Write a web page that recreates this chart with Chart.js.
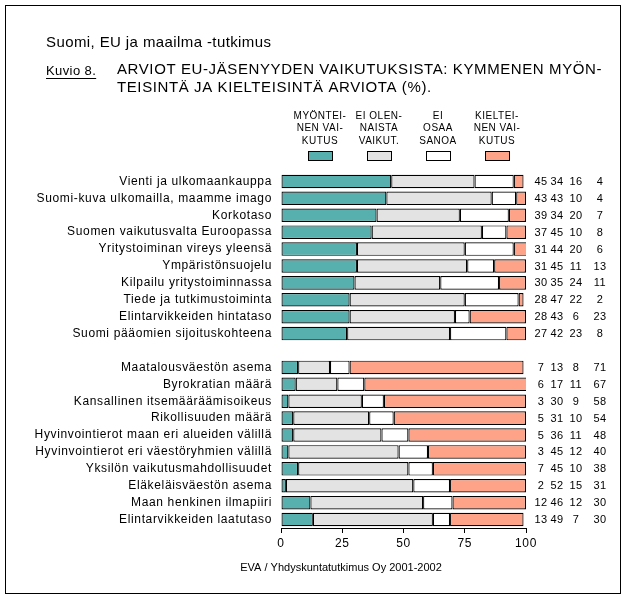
<!DOCTYPE html>
<html>
<head>
<meta charset="utf-8">
<script src="https://cdn.jsdelivr.net/npm/chart.js@4.4.0/dist/chart.umd.min.js"></script>
<style>
  body { margin: 0; background: #fff; }
  canvas { display: block; }
</style>
</head>
<body>
<canvas id="chart" width="626" height="599"></canvas>
<script>
// kategoriat (tyhjä rivi erottaa myönteiset ja kielteiset)
const categories = [
  "Vienti ja ulkomaankauppa",
  "Suomi-kuva ulkomailla, maamme imago",
  "Korkotaso",
  "Suomen vaikutusvalta Euroopassa",
  "Yritystoiminan vireys yleensä",
  "Ympäristönsuojelu",
  "Kilpailu yritystoiminnassa",
  "Tiede ja tutkimustoiminta",
  "Elintarvikkeiden hintataso",
  "Suomi pääomien sijoituskohteena",
  "",
  "Maatalousväestön asema",
  "Byrokratian määrä",
  "Kansallinen itsemääräämisoikeus",
  "Rikollisuuden määrä",
  "Hyvinvointierot maan eri alueiden välillä",
  "Hyvinvointierot eri väestöryhmien välillä",
  "Yksilön vaikutusmahdollisuudet",
  "Eläkeläisväestön asema",
  "Maan henkinen ilmapiiri",
  "Elintarvikkeiden laatutaso",
];

const positive = [45, 43, 39, 37, 31, 31, 30, 28, 28, 27, null, 7, 6, 3, 5, 5, 3, 7, 2, 12, 13];
const noEffect = [34, 43, 34, 45, 44, 45, 35, 47, 43, 42, null, 13, 17, 30, 31, 36, 45, 45, 52, 46, 49];
const cantSay = [16, 10, 20, 10, 20, 11, 24, 22, 6, 23, null, 8, 11, 9, 10, 11, 12, 10, 15, 12, 7];
const negative = [4, 4, 7, 8, 6, 13, 11, 2, 23, 8, null, 71, 67, 58, 54, 48, 40, 38, 31, 30, 30];

const seriesLabels = [
  ["MYÖNTEI-", "NEN VAI-", "KUTUS"],
  ["EI OLEN-", "NAISTA", "VAIKUT."],
  ["EI", "OSAA", "SANOA"],
  ["KIELTEI-", "NEN VAI-", "KUTUS"],
];
const seriesColors = ["#58B0AE", "#E3E3E3", "#FFFFFF", "#FFA388"];
const xTicks = [0, 25, 50, 75, 100];

const FONT = "'Liberation Sans', Arial, sans-serif";

const decorPlugin = {
  id: "decor",
  beforeDraw: (chart) => {
    const ctx = chart.ctx;
    ctx.save();
    ctx.fillStyle = "#fff";
    ctx.fillRect(0, 0, chart.width, chart.height);
    ctx.restore();
    ctx.letterSpacing = "0.65px"; // akselitekstit
  },
  afterDraw: (chart) => {
    const ctx = chart.ctx;
    ctx.save();
    ctx.fillStyle = "#000";
    ctx.strokeStyle = "#000";
    ctx.lineWidth = 1;

    // kehys
    ctx.strokeRect(5.5, 5.5, 615, 588);

    // otsikot
    ctx.textBaseline = "middle";
    ctx.textAlign = "left";
    ctx.font = "15px " + FONT;
    ctx.letterSpacing = "0.4px";
    ctx.fillText("Suomi, EU ja maailma -tutkimus", 46, 43);
    ctx.font = "13px " + FONT;
    ctx.letterSpacing = "0.4px";
    ctx.fillText("Kuvio 8.", 46, 71);
    const kw = ctx.measureText("Kuvio 8.").width;
    ctx.fillRect(46, 78, kw, 1);
    ctx.font = "15px " + FONT;
    ctx.letterSpacing = "0.6px";
    ctx.fillText("ARVIOT EU-JÄSENYYDEN VAIKUTUKSISTA: KYMMENEN MYÖN-", 117, 70);
    ctx.fillText("TEISINTÄ JA KIELTEISINTÄ ARVIOTA (%).", 117, 88);

    // selite
    const legendX = [320, 379, 438, 497];
    ctx.font = "10px " + FONT;
    ctx.letterSpacing = "0.5px";
    ctx.textAlign = "center";
    chart.data.datasets.forEach((ds, i) => {
      seriesLabels[i].forEach((line, j) => {
        ctx.fillText(line, legendX[i], 116 + j * 12.5);
      });
      ctx.fillStyle = ds.backgroundColor;
      ctx.fillRect(legendX[i] - 12, 151, 24, 9);
      ctx.strokeRect(legendX[i] - 12 + 0.5, 151.5, 24, 9);
      ctx.fillStyle = "#000";
    });

    // arvot oikealla
    const colX = [541, 557, 576, 600];
    const yScale = chart.scales.y;
    ctx.font = "11px " + FONT;
    ctx.letterSpacing = "0.5px";
    chart.data.datasets.forEach((ds, i) => {
      ds.data.forEach((v, k) => {
        if (v === null) return;
        ctx.fillText(String(v), colX[i], yScale.getPixelForValue(k) + 0.5);
      });
    });

    // lähde
    ctx.font = "11px " + FONT;
    ctx.letterSpacing = "0px";
    ctx.fillText("EVA / Yhdyskuntatutkimus Oy 2001-2002", 341, 568);
    ctx.restore();
  },
};

const datasets = [positive, noEffect, cantSay, negative].map((data, i) => ({
  label: seriesLabels[i].join(" "),
  data: data,
  backgroundColor: seriesColors[i],
  borderColor: "#000",
  borderWidth: 1.2,
  borderSkipped: false,
  barPercentage: 0.8,
  categoryPercentage: 1,
}));

new Chart(document.getElementById("chart").getContext("2d"), {
  type: "bar",
  data: { labels: categories, datasets: datasets },
  plugins: [decorPlugin],
  options: {
    indexAxis: "y",
    responsive: false,
    animation: false,
    layout: { padding: { left: 0, right: 100, top: 173, bottom: 0 } },
    plugins: { legend: { display: false }, tooltip: { enabled: false } },
    scales: {
      x: {
        stacked: true,
        min: 0,
        max: 100,
        afterFit: (s) => { s.height = 71; },
        afterBuildTicks: (s) => { s.ticks = xTicks.map((v) => ({ value: v })); },
        ticks: { color: "#000", font: { family: FONT, size: 12 }, padding: 3, autoSkip: false },
        grid: { drawOnChartArea: false, drawTicks: true, tickLength: 5, color: "#000" },
        border: { color: "#000", width: 1 },
      },
      y: {
        stacked: true,
        afterFit: (s) => { s.width = 281; },
        ticks: { color: "#000", font: { family: FONT, size: 12 }, padding: 9, autoSkip: false },
        grid: { display: false, drawTicks: false },
        border: { display: false },
      },
    },
  },
});
</script>
</body>
</html>
